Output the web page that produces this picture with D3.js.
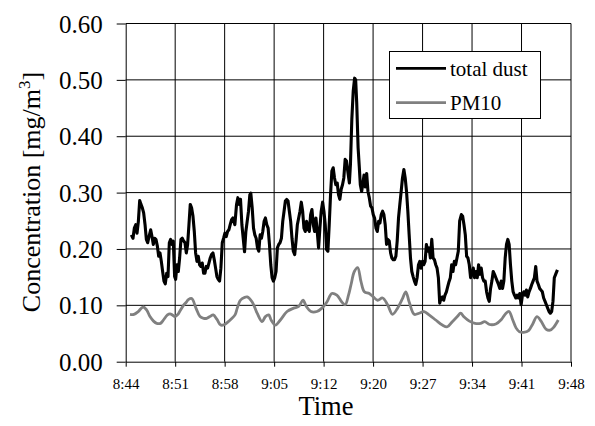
<!DOCTYPE html>
<html><head><meta charset="utf-8">
<script src="https://cdn.jsdelivr.net/npm/d3@7"></script>
<style>html,body{margin:0;padding:0;background:#fff}svg{display:block}
svg text{font-family:"Liberation Serif","Times New Roman",serif !important;fill:#000}</style>
</head><body>
<svg id="c" width="595" height="426"></svg>
<script>
// ---- data (minutes after 8:44, concentration mg/m3) ----
const xTickLabels = ["8:44","8:51","8:58","9:05","9:12","9:20","9:27","9:34","9:41","9:48"];
const yTickValues = [0,0.1,0.2,0.3,0.4,0.5,0.6];
const seriesNames = ["total dust","PM10"];

const dustTime = [0.81,1.05,1.24,1.44,1.63,1.82,2.01,2.20,2.39,2.58,2.78,2.97,3.16,3.35,3.59,3.78,3.97,4.16,4.35,4.55,4.74,4.93,5.12,5.31,5.50,5.69,5.89,6.08,6.27,6.46,6.65,6.84,7.03,7.18,7.37,7.56,7.75,7.94,8.13,8.33,8.52,8.71,8.90,9.09,9.28,9.47,9.67,9.86,10.05,10.24,10.43,10.62,10.81,11.00,11.20,11.39,11.58,11.77,11.96,12.15,12.34,12.54,12.73,12.92,13.11,13.30,13.49,13.68,13.88,14.07,14.26,14.45,14.64,14.83,15.02,15.22,15.41,15.69,15.93,16.12,16.31,16.50,16.70,16.89,17.08,17.27,17.46,17.65,17.84,17.98,18.18,18.37,18.56,18.75,18.94,19.13,19.32,19.51,19.70,19.89,20.08,20.28,20.47,20.66,20.85,21.04,21.23,21.42,21.61,21.80,21.99,22.18,22.38,22.57,22.76,22.95,23.14,23.33,23.52,23.71,23.90,24.09,24.29,24.48,24.67,24.86,25.05,25.24,25.43,25.62,25.81,26.00,26.19,26.39,26.58,26.77,26.96,27.15,27.34,27.53,27.72,27.91,28.10,28.30,28.49,28.68,28.87,29.06,29.25,29.44,29.63,29.82,30.01,30.20,30.40,30.59,30.78,30.97,31.16,31.35,31.54,31.73,31.92,32.15,32.30,32.50,32.70,32.90,33.05,33.20,33.40,33.58,33.72,33.91,34.06,34.25,34.44,34.63,34.82,35.01,35.20,35.39,35.58,35.77,35.97,36.16,36.35,36.54,36.73,36.92,37.11,37.30,37.49,37.68,37.88,38.07,38.26,38.45,38.64,38.83,39.02,39.21,39.40,39.59,39.78,39.98,40.17,40.36,40.55,40.74,40.93,41.12,41.31,41.50,41.69,41.88,42.08,42.27,42.46,42.65,42.84,43.03,43.22,43.41,43.60,43.79,43.99,44.18,44.37,44.56,44.75,44.94,45.13,45.32,45.51,45.70,45.89,46.09,46.28,46.47,46.66,46.85,47.04,47.23,47.42,47.61,47.80,48.00,48.24,48.43,48.62,48.81,49.00,49.19,49.38,49.57,49.76,49.96,50.15,50.34,50.53,50.72,50.91,51.10,51.29,51.48,51.67,51.87,52.06,52.25,52.44,52.63,52.82,53.01,53.20,53.39,53.58,53.77,53.97,54.16,54.35,54.54,54.73,54.92,55.11,55.30,55.49,55.68,55.87,56.07,56.26,56.45,56.64,56.83,57.02,57.21,57.40,57.59,57.78,57.97,58.17,58.36,58.55,58.74,58.93,59.12,59.31,59.50,59.69,59.88,60.07,60.27,60.46,60.65,60.84,61.03,61.22,61.41,61.60,61.79,62.05];
const dustValue = [0.225,0.219,0.237,0.243,0.228,0.249,0.286,0.279,0.273,0.264,0.243,0.217,0.211,0.222,0.234,0.222,0.208,0.219,0.217,0.205,0.187,0.193,0.178,0.160,0.143,0.138,0.157,0.151,0.211,0.217,0.208,0.214,0.151,0.146,0.172,0.160,0.184,0.217,0.219,0.214,0.211,0.193,0.208,0.243,0.279,0.273,0.258,0.231,0.193,0.178,0.187,0.172,0.169,0.175,0.157,0.157,0.169,0.166,0.175,0.184,0.190,0.193,0.181,0.166,0.151,0.146,0.143,0.166,0.211,0.219,0.228,0.222,0.231,0.234,0.243,0.252,0.255,0.243,0.279,0.291,0.279,0.288,0.243,0.219,0.195,0.231,0.249,0.267,0.296,0.299,0.273,0.237,0.225,0.219,0.202,0.196,0.225,0.219,0.231,0.249,0.255,0.243,0.237,0.208,0.172,0.149,0.143,0.149,0.160,0.202,0.208,0.211,0.219,0.249,0.267,0.285,0.288,0.285,0.267,0.249,0.219,0.196,0.190,0.214,0.243,0.255,0.267,0.283,0.267,0.237,0.231,0.249,0.237,0.231,0.261,0.270,0.243,0.231,0.255,0.231,0.202,0.237,0.267,0.283,0.267,0.243,0.199,0.196,0.243,0.296,0.338,0.344,0.326,0.314,0.317,0.296,0.288,0.306,0.314,0.326,0.359,0.356,0.338,0.317,0.350,0.430,0.480,0.503,0.500,0.460,0.380,0.344,0.314,0.302,0.314,0.331,0.310,0.334,0.302,0.291,0.276,0.273,0.261,0.255,0.237,0.231,0.249,0.246,0.261,0.267,0.261,0.243,0.208,0.217,0.214,0.193,0.184,0.181,0.181,0.187,0.214,0.255,0.279,0.302,0.326,0.341,0.326,0.302,0.267,0.225,0.184,0.160,0.151,0.143,0.137,0.149,0.172,0.178,0.166,0.178,0.172,0.178,0.208,0.196,0.202,0.184,0.217,0.184,0.181,0.172,0.166,0.149,0.104,0.113,0.115,0.109,0.118,0.124,0.133,0.142,0.149,0.172,0.160,0.178,0.172,0.184,0.196,0.250,0.261,0.258,0.243,0.225,0.187,0.184,0.172,0.149,0.155,0.166,0.149,0.160,0.149,0.172,0.155,0.166,0.149,0.143,0.143,0.124,0.113,0.107,0.130,0.143,0.160,0.155,0.149,0.143,0.137,0.130,0.143,0.130,0.143,0.184,0.208,0.217,0.208,0.172,0.143,0.124,0.118,0.113,0.118,0.113,0.121,0.101,0.118,0.124,0.118,0.127,0.115,0.124,0.130,0.137,0.143,0.149,0.169,0.143,0.137,0.130,0.127,0.124,0.113,0.107,0.101,0.095,0.089,0.086,0.089,0.107,0.149,0.155,0.163];

const pmTime = [0.62,1.19,1.8,2.49,3.0,3.49,4.0,4.46,5.0,5.36,6.0,6.37,6.7,7.09,7.5,7.80,8.3,8.67,9.0,9.49,10.1,10.68,11.2,11.64,12.1,12.59,13.12,13.65,14.2,14.75,15.2,15.71,16.03,16.43,16.74,17.46,18.18,18.89,19.61,20.08,20.56,20.90,21.52,22.23,23.19,24.14,24.86,25.48,25.96,26.62,27.48,28.2,28.92,29.63,30.35,31.06,31.54,32.02,32.39,32.86,33.34,33.82,34.3,35.01,35.58,36.2,36.92,37.64,38.35,39.07,39.78,40.26,40.74,41.46,42.17,42.89,43.6,44.56,45.51,46.23,46.94,47.66,48.14,48.6,49.4,50.2,51.0,51.6,52.3,53.2,54.0,54.6,55.1,55.6,56.1,56.6,57.2,57.9,58.5,59.1,59.7,60.4,61.0,61.5,62.17];
const pmValue = [0.084,0.084,0.089,0.097,0.092,0.080,0.072,0.068,0.068,0.073,0.083,0.085,0.083,0.080,0.084,0.090,0.100,0.105,0.110,0.112,0.095,0.080,0.077,0.077,0.080,0.083,0.075,0.065,0.066,0.071,0.076,0.083,0.095,0.108,0.112,0.115,0.106,0.086,0.071,0.080,0.083,0.074,0.065,0.074,0.089,0.095,0.098,0.109,0.098,0.089,0.089,0.095,0.106,0.121,0.118,0.106,0.101,0.118,0.137,0.160,0.167,0.142,0.124,0.121,0.115,0.109,0.113,0.101,0.084,0.095,0.112,0.124,0.106,0.084,0.086,0.089,0.083,0.074,0.065,0.062,0.071,0.080,0.086,0.080,0.072,0.068,0.068,0.071,0.066,0.067,0.075,0.085,0.089,0.075,0.060,0.053,0.052,0.055,0.067,0.080,0.072,0.058,0.056,0.061,0.074];

// ---- layout ----
const L = 125.7, R = 571, T = 23.5, B = 361.7;
const svg = d3.select("#c");
svg.append("rect").attr("width",595).attr("height",426).attr("fill","#fff");

const x = d3.scaleLinear().domain([0,64]).range([L,R]);
const y = d3.scaleLinear().domain([0,0.6]).range([B,T]);
const xTicks = d3.range(xTickLabels.length).map(i => i*64/(xTickLabels.length-1));

// grid
const grid = svg.append("g").attr("stroke","#000").attr("stroke-width",1);
grid.selectAll("line.h").data(yTickValues.filter(v=>v>0)).join("line")
  .attr("x1",L).attr("x2",R).attr("y1",d=>y(d)).attr("y2",d=>y(d));
grid.selectAll("line.v").data(xTicks.slice(1)).join("line")
  .attr("x1",d=>x(d)).attr("x2",d=>x(d)).attr("y1",T).attr("y2",B);

// axes
const yAxis = svg.append("g").attr("transform",`translate(${L},0)`)
  .call(d3.axisLeft(y).tickValues(yTickValues).tickFormat(d3.format(".2f")).tickSize(9).tickSizeOuter(0).tickPadding(14));
yAxis.attr("font-family",null);
yAxis.selectAll("text").style("font-size","25px").attr("dy","0.34em");
const xAxis = svg.append("g").attr("transform",`translate(0,${B})`)
  .call(d3.axisBottom(x).tickValues(xTicks).tickFormat((d,i)=>xTickLabels[i]).tickSize(5).tickSizeOuter(0).tickPadding(12));
xAxis.attr("font-family",null);
xAxis.selectAll("text").style("font-size","15px");
svg.selectAll(".domain, .tick line").attr("stroke","#000");

// lines
const lineDust = d3.line().x((d,i)=>x(dustTime[i])).y(d=>y(d));
const linePM = d3.line().x((d,i)=>x(pmTime[i])).y(d=>y(d)).curve(d3.curveCatmullRom.alpha(0.5));
svg.append("path").datum(pmValue).attr("d",linePM).attr("fill","none")
  .attr("stroke","#808080").attr("stroke-width",2.8).attr("stroke-linejoin","round");
svg.append("path").datum(dustValue).attr("d",lineDust).attr("fill","none")
  .attr("stroke","#000").attr("stroke-width",3.1).attr("stroke-linejoin","round");

// titles
svg.append("text").attr("x",326).attr("y",415).attr("text-anchor","middle")
  .style("font-size","26.5px").text("Time");
const yt = svg.append("text").attr("transform",`translate(40,192)rotate(-90)`).attr("text-anchor","middle")
  .style("font-size","26px");
yt.append("tspan").text("Concentration [mg/m");
yt.append("tspan").attr("dy",-10).style("font-size","17px").text("3");
yt.append("tspan").attr("dy",10).text("]");

// legend
const lg = svg.append("g");
lg.append("rect").attr("x",389.5).attr("y",51.5).attr("width",151).attr("height",67)
  .attr("fill","#fff").attr("stroke","#000").attr("stroke-width",1);
const colors = ["#000","#808080"];
const ly = [68.3,102.7];
seriesNames.forEach((n,i)=>{
  lg.append("line").attr("x1",396).attr("x2",446).attr("y1",ly[i]).attr("y2",ly[i])
    .attr("stroke",colors[i]).attr("stroke-width",2.8);
  lg.append("text").attr("x",450).attr("y",ly[i]+7.3).style("font-size","21px").text(n);
});
</script>
</body></html>
